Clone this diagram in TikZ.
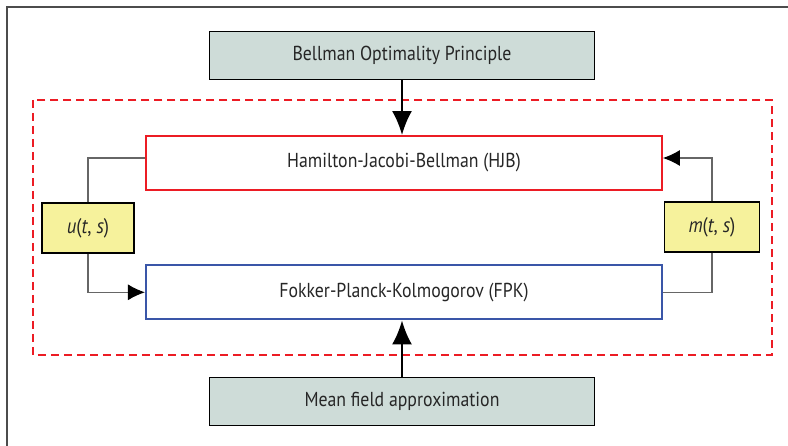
\documentclass[tikz,border=0pt]{standalone}
\usepackage{fontspec}
\setmainfont[FakeStretch=0.88]{PT Sans}
\usetikzlibrary{arrows.meta}

\definecolor{boxgrey}{HTML}{CEDCD8}
\definecolor{boxyellow}{HTML}{F6F29C}
\definecolor{hjbred}{HTML}{EC1C24}
\definecolor{fpkblue}{HTML}{3A56A8}

\begin{document}
\begin{tikzpicture}[x=0.02cm,y=-0.02cm]

\tikzset{principle/.style = {shape=rectangle,draw,fill=boxgrey,minimum width=7.7cm,minimum height=0.96cm,text=black!85,font=\fontsize{11.5}{13}\selectfont}}
\tikzset{equation/.style = {shape=rectangle,draw,line width=1.1pt,fill=white,minimum width=10.32cm,minimum height=1.08cm,text=black!85,font=\fontsize{11.5}{13}\selectfont}}
\tikzset{coupling/.style = {shape=rectangle,draw,thick,fill=boxyellow,minimum width=1.9cm,minimum height=1cm,text=black!85,font=\fontsize{12}{14}\selectfont}}
\tikzset{link/.style = {draw=black!60,line width=0.6pt,arrows={-Latex[length=3.4mm,width=3.2mm,black]}}}
\tikzset{feed/.style = {-{Latex[length=4.8mm,width=4mm]},line width=1.2pt}}

\useasboundingbox (0,0) rectangle (788,446);
\draw[black!70,line width=0.6pt] (7,446) -- (7,7) -- (788,7);

\draw[hjbred,line width=0.9pt,dash pattern=on 1.6mm off 1mm] (33,100) rectangle (772,355);

\node[principle] (bellman) at (402,55.5) {Bellman Optimality Principle};
\node[principle] (meanfield) at (402,401) {Mean field approximation};
\node[equation,draw=hjbred] (hjb) at (404,163) {Hamilton-Jacobi-Bellman (HJB)};
\node[equation,draw=fpkblue,line width=1.3pt] (fpk) at (404,292.3) {Fokker-Planck-Kolmogorov (FPK)};
\node[coupling,minimum width=1.84cm] (u) at (88,228) {\textit{u}(\textit{t}, \textit{s})};
\node[coupling] (m) at (712,227) {\textit{m}(\textit{t}, \textit{s})};

\draw[feed] (bellman.south) -- (bellman.south|-hjb.north);
\draw[feed] (meanfield.north) -- (meanfield.north|-fpk.south);

\draw[link,-] (u.north) |- ([yshift=0.1cm]hjb.west);
\draw[link] (u.south) |- (fpk.west);
\draw[link] (m.north) |- ([yshift=0.1cm]hjb.east);
\draw[link,-] (m.south) |- (fpk.east);

\end{tikzpicture}
\end{document}
